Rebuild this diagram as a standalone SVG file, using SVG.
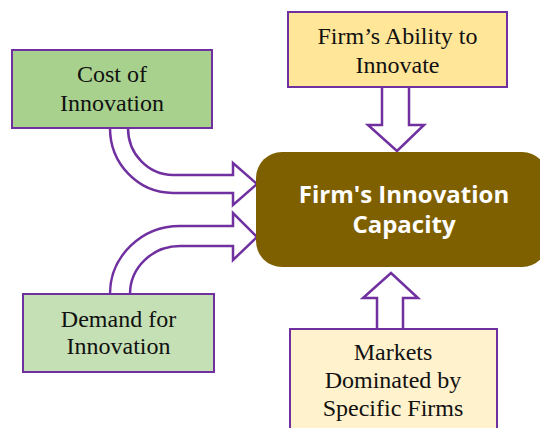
<svg xmlns="http://www.w3.org/2000/svg" width="540" height="428" viewBox="0 0 540 428">
<style>
.arr{fill:#ffffff;stroke:#7030A0;stroke-width:2.5;stroke-linejoin:miter}
.box{stroke:#7030A0;stroke-width:2}
.t{font-family:"Liberation Serif","Times New Roman",serif;font-size:24px;fill:#111111;text-anchor:middle}
.c{font-family:"Open Sans","DejaVu Sans",sans-serif;font-weight:bold;font-size:24px;fill:#ffffff;text-anchor:middle}
</style>
<rect width="540" height="428" fill="#ffffff"/>
<g id="connectors">
<path class="arr" d="M110,128 A63,65 0 0 0 173,193 L233,193 L233,205 L257,184 L233,163 L233,175 L173,175 A45,47 0 0 1 128,128"/>
<path class="arr" d="M110,294 A70,68 0 0 1 180,226 L233,226 L233,213 L257,237 L233,260 L233,246 L180,246 A50,48 0 0 0 130,294"/>
<path class="arr" d="M382,87 L382,125 L368,125 L397,151 L424,125 L409,125 L409,87"/>
<path class="arr" d="M377,329 L377,298 L363,298 L391,273 L418,298 L403,298 L403,329"/>
</g>
<g id="cost">
<rect class="box" x="12" y="50" width="200" height="78" fill="#A9D18E"/>
<text class="t" x="112" y="82">Cost of</text>
<text class="t" x="112" y="111">Innovation</text>
</g>
<g id="demand">
<rect class="box" x="23" y="294" width="191" height="78" fill="#C5E0B4"/>
<text class="t" x="118.5" y="327">Demand for</text>
<text class="t" x="118.5" y="354">Innovation</text>
</g>
<g id="ability">
<rect class="box" x="288" y="12" width="219" height="75" fill="#FFE699"/>
<text class="t" x="397.5" y="44">Firm’s Ability to</text>
<text class="t" x="397.5" y="73">Innovate</text>
</g>
<g id="capacity">
<rect x="256" y="152" width="292" height="115" rx="26" ry="26" fill="#7F6000"/>
<text class="c" x="404" y="203">Firm's Innovation</text>
<text class="c" x="404" y="233">Capacity</text>
</g>
<g id="markets">
<rect class="box" x="290" y="329" width="207" height="110" fill="#FFF2CC"/>
<text class="t" x="393" y="360">Markets</text>
<text class="t" x="393" y="388">Dominated by</text>
<text class="t" x="393" y="416">Specific Firms</text>
</g>
</svg>
